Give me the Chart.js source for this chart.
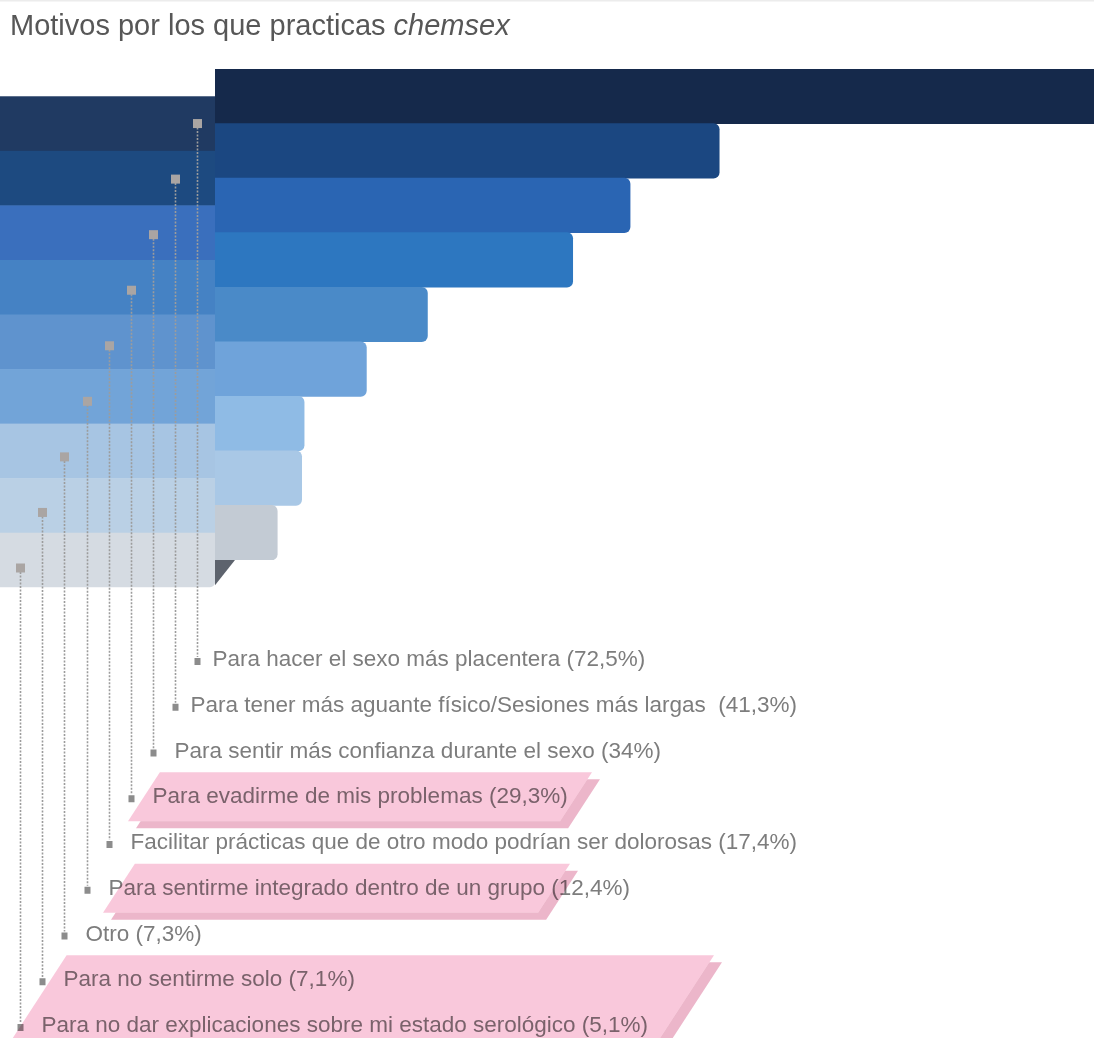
<!DOCTYPE html>
<html>
<head>
<meta charset="utf-8">
<script src="https://cdn.jsdelivr.net/npm/chart.js@4/dist/chart.umd.min.js"></script>
<style>
  body { margin: 0; background: #fff; }
  #caja { position: relative; width: 1094px; height: 1038px; }
</style>
</head>
<body>
<div id="caja"><canvas id="motivos"></canvas></div>
<script>
const ctx = document.getElementById('motivos')

// datos
const categorias = [
  'Para hacer el sexo más placentera',
  'Para tener más aguante físico/Sesiones más largas ',
  'Para sentir más confianza durante el sexo',
  'Para evadirme de mis problemas',
  'Facilitar prácticas que de otro modo podrían ser dolorosas',
  'Para sentirme integrado dentro de un grupo',
  'Otro',
  'Para no sentirme solo',
  'Para no dar explicaciones sobre mi estado serológico'
]
const porcentajes = [72.5, 41.3, 34, 29.3, 17.4, 12.4, 7.3, 7.1, 5.1]

const coloresBarra = ['#15294b', '#1b4781', '#2a65b3', '#2d77c0', '#4a8ac8', '#6fa3da', '#8fbbe5', '#a9c8e6', '#c3cbd4']
const coloresBanda = ['#203a62', '#1d4a80', '#3a6fbd', '#4582c4', '#5f93ce', '#72a4d8', '#a7c5e3', '#bad0e5', '#d5dbe2']

const etiqueta = (i) => categorias[i] + ' (' + String(porcentajes[i]).replace('.', ',') + '%)'

// parte izquierda "escalera" desplazada media barra
const escalera = {
  id: 'escalera',
  beforeDatasetsDraw: (chart) => {
    const c = chart.ctx
    const meta = chart.getDatasetMeta(0)
    const x0 = chart.scales.x.getPixelForValue(0)
    const ultimo = meta.data.length - 1
    c.save()
    meta.data.forEach((bar, i) => {
      const h = bar.height
      c.fillStyle = coloresBanda[i]
      if (i === ultimo) {
        c.beginPath()
        c.roundRect(0, bar.y, x0, h, [0, 0, 5, 0])
        c.fill()
      } else {
        c.fillRect(0, bar.y, x0, h + 0.5)
      }
    })
    // pliegue oscuro
    const b = meta.data[ultimo]
    c.fillStyle = '#5d636d'
    c.beginPath()
    c.moveTo(x0, b.y + b.height / 2)
    c.lineTo(x0 + 20, b.y + b.height / 2)
    c.lineTo(x0, b.y + b.height - 2)
    c.closePath()
    c.fill()
    c.restore()
  }
}

const etiquetas = {
  id: 'etiquetas',
  afterDraw: (chart, args, opts) => {
    const c = chart.ctx
    const meta = chart.getDatasetMeta(0)
    const x0 = chart.scales.x.getPixelForValue(0)
    const fila = (i) => chart.chartArea.bottom + 100 + i * 45.75
    const mx = (i) => x0 - 18 - i * 22.1
    c.save()

    // titulo
    c.fillStyle = '#575757'
    c.textBaseline = 'alphabetic'
    c.font = '29px "Liberation Sans", Arial, sans-serif'
    const t1 = 'Motivos por los que practicas '
    c.fillText(t1, 10, 35)
    const w1 = c.measureText(t1).width
    c.font = 'italic 29px "Liberation Sans", Arial, sans-serif'
    c.fillText('chemsex', 10 + w1, 35)

    // linea fina arriba
    c.fillStyle = '#ececec'
    c.fillRect(0, 0, chart.width, 1.5)

    meta.data.forEach((bar, i) => {
      const x = Math.round(mx(i)) + 0.5
      const ty = bar.y + bar.height / 2 + i
      const fy = fila(i)
      c.strokeStyle = '#9c9c9c'
      c.lineWidth = 1.6
      c.setLineDash([2, 1.5])
      c.beginPath()
      c.moveTo(x, ty + 4)
      c.lineTo(x, fy - 3)
      c.stroke()
      c.setLineDash([])
      c.fillStyle = '#aaa5a3'
      c.fillRect(x - 4.5, ty - 4.5, 9, 9)
      c.fillStyle = '#8c8c8c'
      c.fillRect(x - 3, fy - 2, 6, 7)
      c.fillStyle = '#7d7d7d'
      c.font = '22.5px "Liberation Sans", Arial, sans-serif'
      c.textBaseline = 'middle'
      c.fillText(etiqueta(i), x + (i < 2 ? 15 : 21), fy)
    })

    // resaltado rosa encima (multiplicar)
    const pend = 0.65
    c.globalCompositeOperation = 'multiply'
    opts.resaltes.forEach((r) => {
      const top = fila(r.filas[0]) - 25
      const bot = fila(r.filas[r.filas.length - 1]) + 24
      const hh = bot - top
      const forma = (dx, dy) => {
        const p = new Path2D()
        p.moveTo(r.izq + pend * hh + dx, top + dy)
        p.lineTo(r.der + dx, top + dy)
        p.lineTo(r.der - pend * hh + dx, bot + dy)
        p.lineTo(r.izq + dx, bot + dy)
        p.closePath()
        return p
      }
      const frente = forma(0, 0)
      const fondo = forma(8, 7)
      c.save()
      const fuera = new Path2D()
      fuera.rect(0, 0, chart.width, chart.height)
      fuera.addPath(frente)
      c.clip(fuera, 'evenodd')
      c.fillStyle = '#ecb6ca'
      c.fill(fondo)
      c.restore()
      c.fillStyle = '#f9c8db'
      c.fill(frente)
    })
    c.restore()
  }
}

const grafico = new Chart(ctx, {
  type: 'bar',
  data: {
    labels: categorias,
    datasets: [{
      data: porcentajes,
      backgroundColor: coloresBarra,
      categoryPercentage: 1,
      barPercentage: 1,
      borderRadius: 6,
      borderSkipped: 'start'
    }]
  },
  options: {
    indexAxis: 'y',
    responsive: true,
    maintainAspectRatio: false,
    animation: false,
    events: [],
    layout: { padding: { left: 215, top: 69, right: 0, bottom: 478 } },
    scales: {
      x: { display: false, min: 0, max: 72 },
      y: { display: false }
    },
    plugins: {
      legend: { display: false },
      tooltip: { enabled: false },
      etiquetas: {
        resaltes: [
          { filas: [3], izq: 128, der: 592 },
          { filas: [5], izq: 103, der: 570 },
          { filas: [7, 8], izq: 5, der: 714 }
        ]
      }
    }
  },
  plugins: [escalera, etiquetas]
})
</script>
</body>
</html>
